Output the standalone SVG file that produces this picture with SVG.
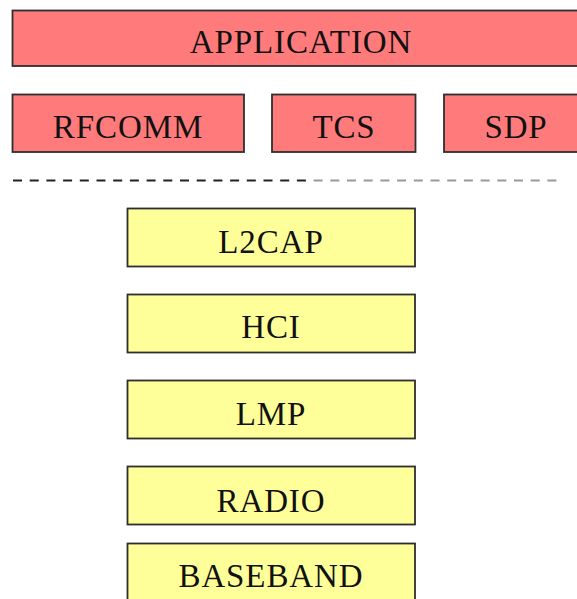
<svg xmlns="http://www.w3.org/2000/svg" width="577" height="599" viewBox="0 0 577 599">
<defs>
<style>
.red{fill:#FF7A7A;stroke:#2e2e2e;stroke-width:1.8}
.yel{fill:#FFFF99;stroke:#2e2e2e;stroke-width:1.8}
text{font-family:"Liberation Serif","Times New Roman",serif;font-size:33px;fill:#111111;text-anchor:middle;letter-spacing:0.9px}
</style>
</defs>
<rect width="577" height="599" fill="#ffffff"/>
<g id="application">
<rect class="red" x="12.5" y="10.5" width="578" height="55.5"/>
<text x="301" y="53">APPLICATION</text>
</g>
<g id="rfcomm">
<rect class="red" x="12.5" y="94.5" width="231.5" height="57.5"/>
<text x="128" y="138">RFCOMM</text>
</g>
<g id="tcs">
<rect class="red" x="272" y="94.5" width="143.5" height="57.5"/>
<text x="344" y="138">TCS</text>
</g>
<g id="sdp">
<rect class="red" x="444" y="94.5" width="146" height="57.5"/>
<text x="516" y="138">SDP</text>
</g>
<g id="separator">
<line x1="13" y1="180.5" x2="307" y2="180.5" stroke="#222" stroke-width="2" stroke-dasharray="9 7.7"/>
<line x1="313.6" y1="180.5" x2="557" y2="180.5" stroke="#999" stroke-width="2" stroke-dasharray="9 7.7"/>
</g>
<g id="l2cap">
<rect class="yel" x="127.5" y="208.5" width="287.5" height="58"/>
<text x="271" y="253">L2CAP</text>
</g>
<g id="hci">
<rect class="yel" x="127.5" y="294.5" width="287.5" height="58"/>
<text x="271" y="338">HCI</text>
</g>
<g id="lmp">
<rect class="yel" x="127.5" y="380.5" width="287.5" height="58"/>
<text x="271" y="425">LMP</text>
</g>
<g id="radio">
<rect class="yel" x="127.5" y="466.5" width="287.5" height="58"/>
<text x="271" y="512">RADIO</text>
</g>
<g id="baseband">
<rect class="yel" x="127.5" y="543.5" width="287.5" height="70"/>
<text x="271" y="587">BASEBAND</text>
</g>
<g id="connectors"/>
</svg>
